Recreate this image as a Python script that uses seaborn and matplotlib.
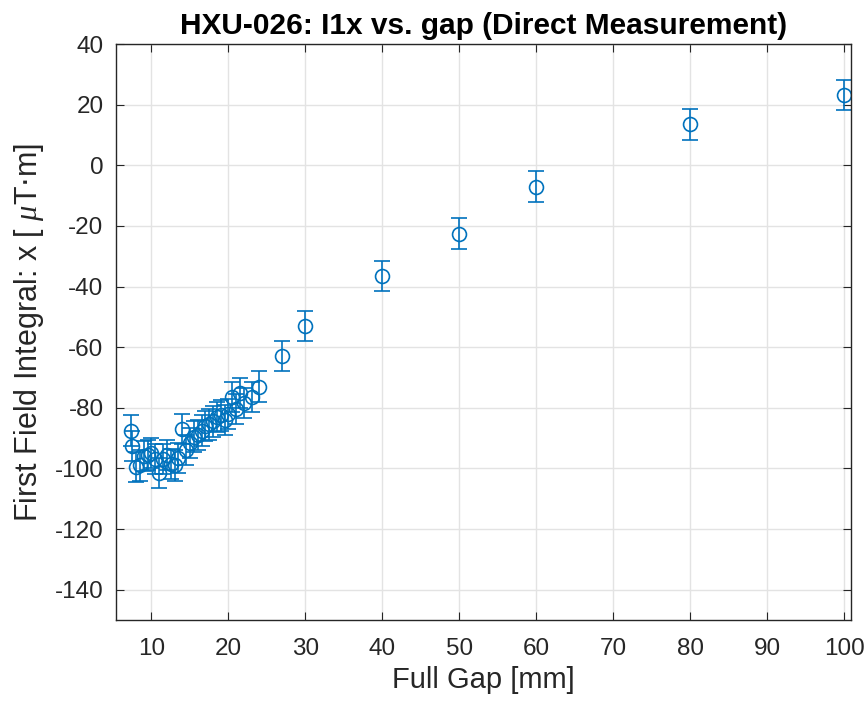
"""HXU-026 first field integral (x) vs. full gap, direct measurement."""
import matplotlib
matplotlib.use("Agg")
import matplotlib.pyplot as plt
import numpy as np
import pandas as pd
import seaborn as sns

gap_mm = [7.3, 7.5, 8.0, 8.5, 9.0, 9.5, 10.0, 10.5, 11.0, 11.5, 12.0, 12.5,
          13.0, 13.5, 14.0, 14.5, 15.0, 15.5, 16.0, 16.5, 17.0, 17.5, 18.0,
          18.5, 19.0, 19.5, 20.0, 20.5, 21.0, 21.5, 22.0, 23.0, 24.0,
          27.0, 30.0, 40.0, 50.0, 60.0, 80.0, 100.0]
i1x = [-87.5, -92.5, -99.5, -99.0, -96.0, -95.5, -95.0, -97.0, -101.5, -97.0,
       -95.5, -98.5, -99.0, -96.5, -87.0, -94.0, -91.5, -89.5, -89.0, -87.5,
       -86.0, -85.5, -84.5, -83.0, -82.5, -84.0, -82.0, -76.5, -80.5, -75.0,
       -78.5, -76.5, -73.0,
       -63.0, -53.0, -36.5, -22.5, -7.0, 13.5, 23.2]
i1x_err = [5.0] * len(gap_mm)

x_ticks = np.arange(10, 101, 10)
y_ticks = np.arange(-140, 41, 20)

df = pd.DataFrame({"gap": gap_mm, "i1x": i1x, "err": i1x_err})

sns.set_theme(style="whitegrid")
plt.rcParams["font.family"] = ["Liberation Sans", "DejaVu Sans"]
plt.rcParams["axes.unicode_minus"] = False
plt.rcParams["mathtext.fontset"] = "custom"
plt.rcParams["mathtext.it"] = "Liberation Serif:italic"

fig = plt.figure(figsize=(8.66, 7.11), dpi=100)
ax = fig.add_axes([0.134, 0.128, 0.849, 0.81])

color = "#0072BD"
ax.errorbar(df["gap"], df["i1x"], yerr=df["err"], fmt="o", color=color,
            mfc="none", mec=color, ms=10, mew=1.2, elinewidth=1.2,
            capsize=6, capthick=1.2)

ax.set_xlim(5.4, 100.9)
ax.set_ylim(-150, 40)
ax.set_xticks(x_ticks)
ax.set_yticks(y_ticks)

ax.grid(True, color="#e3e3e3", linewidth=1.0)
for s in ax.spines.values():
    s.set_color("#262626")
    s.set_linewidth(1.0)
ax.tick_params(direction="in", length=6, width=0.8, color="#262626",
               labelsize=17.5, labelcolor="#262626", top=True, right=True,
               bottom=True, left=True)
ax.tick_params(axis="x", pad=13)
ax.tick_params(axis="y", pad=9)

ax.set_xlabel("Full Gap [mm]", fontsize=21, color="#262626", labelpad=4)
ax.set_ylabel(r"First Field Integral: x [ $\mu$T$\cdot$m]", fontsize=22,
              color="#262626", labelpad=6)
ax.set_title("HXU-026: I1x vs. gap (Direct Measurement)", fontsize=21.5,
             fontweight="bold", color="black", pad=7)

fig.savefig("out.png", dpi=100)
plt.close(fig)
